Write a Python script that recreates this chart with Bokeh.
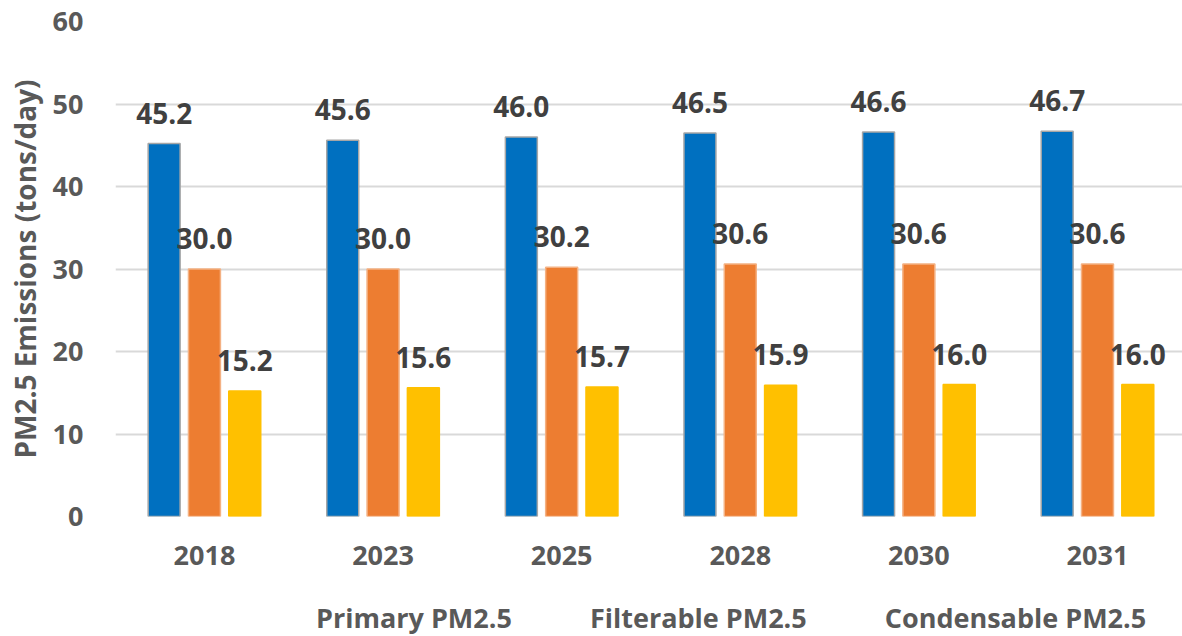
from bokeh.plotting import figure
from bokeh.layouts import column
from bokeh.models import ColumnDataSource, Range1d, FixedTicker, LabelSet, Legend, LegendItem
from bokeh.transform import dodge
from bokeh.core.properties import value
from bokeh.embed import file_html
from bokeh.resources import INLINE

years = ["2018", "2023", "2025", "2028", "2030", "2031"]
primary = [45.2, 45.6, 46.0, 46.5, 46.6, 46.7]
filterable = [30.0, 30.0, 30.2, 30.6, 30.6, 30.6]
condensable = [15.2, 15.6, 15.7, 15.9, 16.0, 16.0]
series_names = ["Primary PM2.5", "Filterable PM2.5", "Condensable PM2.5"]
colors = ["#0070C0", "#ED7D31", "#FFC000"]
outlines = ["#A6A6A6", "#F4B183", "#FFC000"]
y_ticks = [0, 10, 20, 30, 40, 50, 60]

idx = list(range(len(years)))
src = ColumnDataSource(dict(idx=idx, primary=primary, filterable=filterable, condensable=condensable,
                            lp=[f"{v:.1f}" for v in primary],
                            lf=[f"{v:.1f}" for v in filterable],
                            lc=[f"{v:.1f}" for v in condensable]))

p = figure(width=1182, height=591, output_backend="svg", toolbar_location=None,
           x_range=Range1d(-0.498, 5.476), y_range=Range1d(0, 60),
           min_border_left=115, min_border_right=0, min_border_top=21, min_border_bottom=75)
p.outline_line_color = None
p.background_fill_color = "white"

font = "Open Sans"
offsets = [-0.2257, 0.0, 0.2257]
cols = ["primary", "filterable", "condensable"]
lcols = ["lp", "lf", "lc"]
for off, c, lc, col, oc in zip(offsets, cols, lcols, colors, outlines):
    p.vbar(x=dodge("idx", off, range=p.x_range), top=c, width=0.179, bottom=0, source=src,
           fill_color=col, line_color=oc, line_width=1.5)
    labels = LabelSet(x=dodge("idx", off, range=p.x_range), y=c, text=lc, source=src,
                      text_align="center", text_baseline="alphabetic", y_offset=20,
                      text_font=value(font), text_font_style="bold", text_font_size="28px",
                      text_color="#404040")
    p.add_layout(labels)

p.xaxis.ticker = FixedTicker(ticks=idx)
p.xaxis.major_label_overrides = {i: y for i, y in zip(idx, years)}
p.yaxis.ticker = FixedTicker(ticks=y_ticks)
for ax in (p.xaxis, p.yaxis):
    ax.axis_line_color = None
    ax.major_tick_line_color = None
    ax.minor_tick_line_color = None
    ax.major_tick_out = 0
    ax.major_tick_in = 0
    ax.major_label_text_font = font
    ax.major_label_text_font_style = "bold"
    ax.major_label_text_font_size = "27px"
    ax.major_label_text_color = "#595959"
p.xaxis.major_label_standoff = 29
p.yaxis.major_label_standoff = 32
p.yaxis.axis_label = "PM2.5 Emissions (tons/day)"
p.yaxis.axis_label_text_font = font
p.yaxis.axis_label_text_font_style = "bold"
p.yaxis.axis_label_text_font_size = "28px"
p.yaxis.axis_label_text_color = "#595959"
p.yaxis.axis_label_standoff = 6
p.xgrid.grid_line_color = None
p.ygrid.grid_line_color = "#D9D9D9"
p.ygrid.grid_line_width = 2

# legend strip below the chart
p2 = figure(width=1182, height=45, output_backend="svg", toolbar_location=None,
            x_range=Range1d(0, 1), y_range=Range1d(0, 1),
            x_axis_location=None, y_axis_location=None,
            min_border_left=0, min_border_right=0, min_border_top=0, min_border_bottom=0)
p2.outline_line_color = None
p2.xgrid.grid_line_color = None
p2.ygrid.grid_line_color = None
leg_renderers = [p2.vbar(x=[], top=[], width=0.1, fill_color=col, line_color=oc, line_width=1.5)
                 for col, oc in zip(colors, outlines)]
items = [LegendItem(label=n, renderers=[r]) for n, r in zip(series_names, leg_renderers)]
legend = Legend(items=items, orientation="horizontal", location=(174, 0),
                label_text_font=font, label_text_font_style="bold", label_text_font_size="27px",
                label_text_color="#595959", glyph_width=18, glyph_height=18,
                spacing=51, padding=0, margin=0, border_line_color=None,
                background_fill_alpha=0, label_standoff=9)
p2.add_layout(legend)

layout = column(p, p2, spacing=0)
open("out.html", "w").write(file_html(layout, INLINE))
